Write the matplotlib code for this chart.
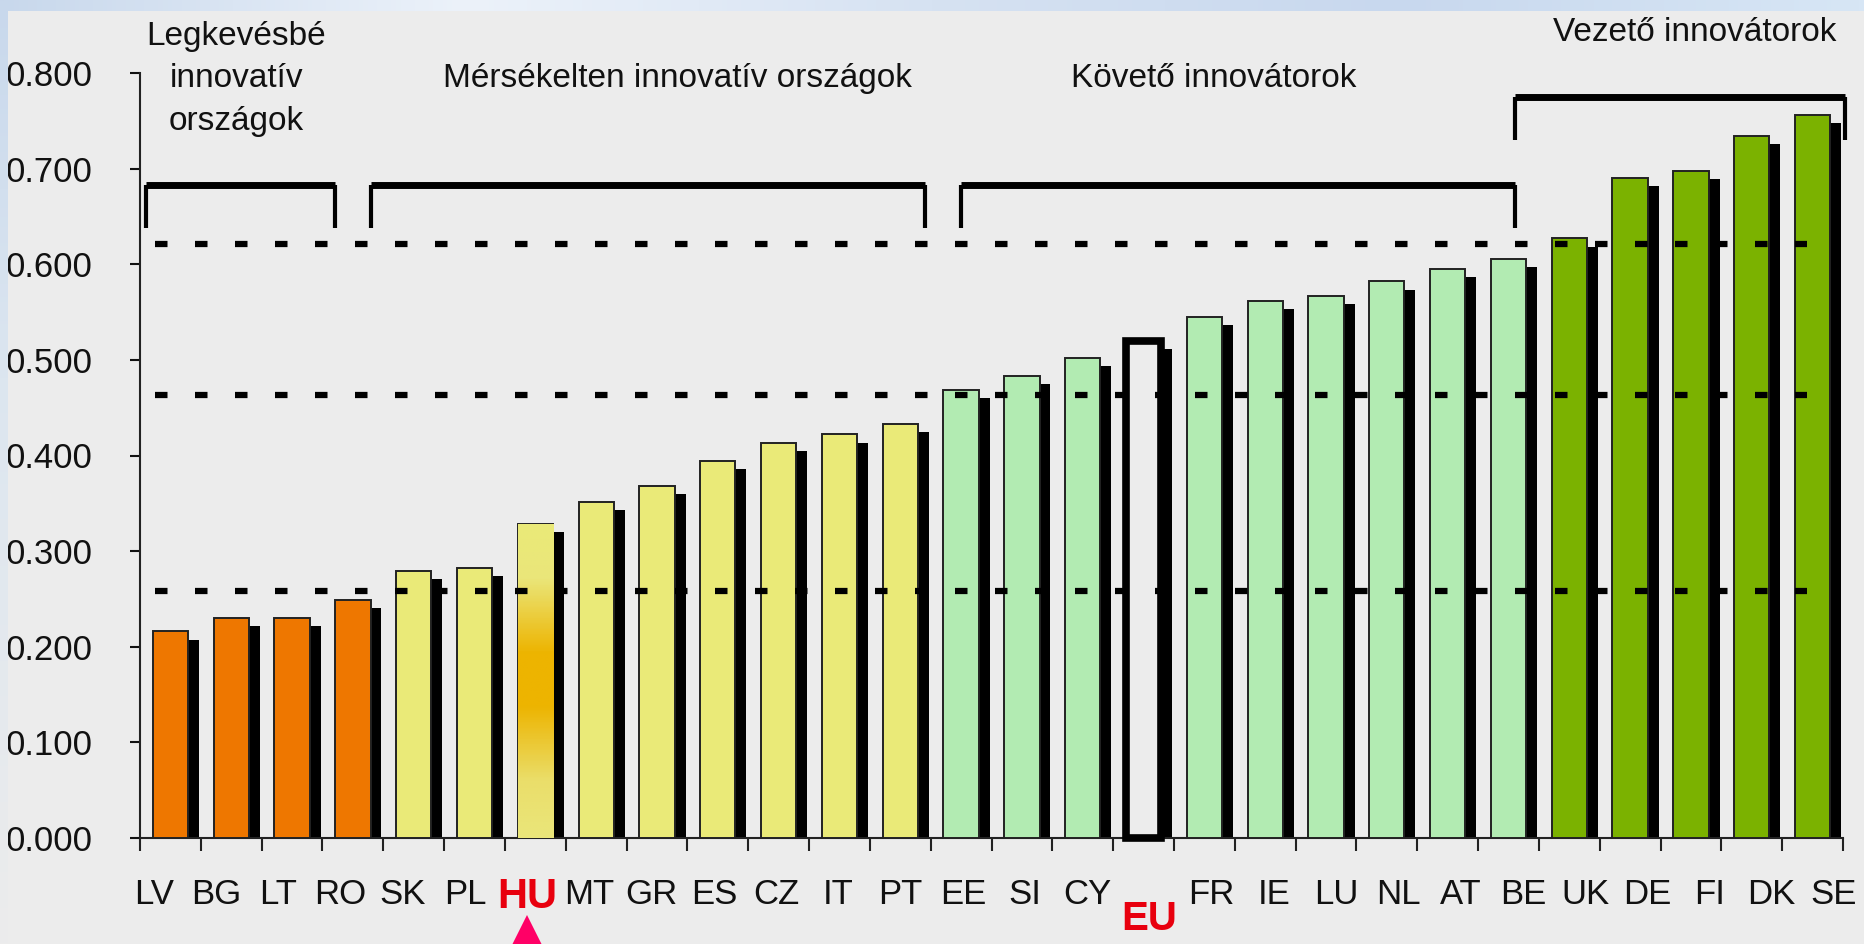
import numpy as np
import matplotlib
matplotlib.use('Agg')
import matplotlib.pyplot as plt
from matplotlib.colors import LinearSegmentedColormap

## data
countries = ['LV', 'BG', 'LT', 'RO', 'SK', 'PL', 'HU', 'MT', 'GR', 'ES', 'CZ', 'IT', 'PT',
             'EE', 'SI', 'CY', 'EU', 'FR', 'IE', 'LU', 'NL', 'AT', 'BE',
             'UK', 'DE', 'FI', 'DK', 'SE']
scores = [0.216, 0.230, 0.230, 0.249, 0.279, 0.282, 0.328, 0.351, 0.368, 0.394, 0.413, 0.422, 0.433,
          0.469, 0.483, 0.502, 0.520, 0.545, 0.562, 0.567, 0.582, 0.595, 0.606,
          0.627, 0.690, 0.698, 0.734, 0.756]
groups = ['low'] * 4 + ['moderate'] * 9 + ['follower'] * 3 + ['eu'] + ['follower'] * 6 + ['leader'] * 5
thresholds = [0.258, 0.463, 0.621]

group_titles = ['Legkevésbé\ninnovatív\nországok', 'Mérsékelten innovatív országok',
                'Követő innovátorok', 'Vezető innovátorok']
bracket_left = [-0.40, 3.30, 13.0, 22.1]
bracket_right = [2.71, 12.41, 22.1, 27.54]
bracket_top = [0.683, 0.683, 0.683, 0.775]
bracket_foot = [0.638, 0.638, 0.638, 0.730]

colors = {'low': '#EE7700', 'moderate': '#EAEA78', 'follower': '#B2EBB2',
          'leader': '#7BB200', 'eu': '#ECECEC'}
bg = '#ECECEC'

plt.rcParams['font.family'] = ['Liberation Sans Narrow', 'Liberation Sans', 'DejaVu Sans']

fig = plt.figure(figsize=(18.64, 9.44), dpi=100, facecolor=bg)
ax = fig.add_axes([140 / 1864, 106 / 944, 1703 / 1864, 765 / 944], facecolor=bg)

x = np.arange(len(countries))
width = 0.58
shift = 0.18

## shadows first, then the bars
ax.bar(x + shift, np.array(scores) - 0.0085, width=width, color='black', zorder=2)
bars = ax.bar(x, scores, width=width, color=[colors[g] for g in groups],
              edgecolor='#222222', linewidth=1.4, zorder=3)

eu = countries.index('EU')
bars[eu].set_linewidth(5.5)
bars[eu].set_edgecolor('black')
bars[eu].set_clip_on(False)

## Hungary gets a gradient fill
hu = countries.index('HU')
hu_cmap = LinearSegmentedColormap.from_list('hu', [(0, '#EAE67A'), (0.18, '#EADE6A'),
                                                  (0.42, '#EDB400'), (0.59, '#EDB400'),
                                                  (0.83, '#EAE67A'), (1, '#EAEA78')])
grad = np.linspace(0, 1, 200).reshape(-1, 1)
im = ax.imshow(grad, cmap=hu_cmap, origin='lower', aspect='auto', zorder=3.5,
               extent=(hu - width / 2, hu + width / 2, 0, scores[hu]))
im.set_clip_path(bars[hu])

## threshold lines
for t in thresholds:
    ax.plot([-0.25, 26.9], [t, t], color='black', linewidth=4.5,
            dashes=(2.0, 4.4), solid_capstyle='butt', dash_capstyle='butt', zorder=5)

## group brackets and titles
for l, r, top, foot in zip(bracket_left, bracket_right, bracket_top, bracket_foot):
    ax.plot([l, r], [top, top], color='black', linewidth=5, solid_capstyle='butt',
            zorder=6, clip_on=False)
    ax.plot([l, l], [top, foot], color='black', linewidth=3, solid_capstyle='butt',
            zorder=6, clip_on=False)
    ax.plot([r, r], [top, foot], color='black', linewidth=3, solid_capstyle='butt',
            zorder=6, clip_on=False)

title_x = [1.08, 8.33, 17.16, 25.06]
title_y = [0.794, 0.794, 0.794, 0.842]
for txt, tx, ty in zip(group_titles, title_x, title_y):
    ax.text(tx, ty, txt, ha='center', va='center', fontsize=24, linespacing=1.47,
            color='#111111', clip_on=False)

## axes
ax.set_xlim(-0.5, len(countries) - 0.5)
ax.set_ylim(0, 0.8)
ax.set_yticks(np.arange(0, 0.81, 0.1))
ax.set_yticklabels(['%.3f' % v for v in np.arange(0, 0.81, 0.1)])
ax.set_xticks(np.arange(-0.5, len(countries), 1.0))
ax.set_xticklabels([])
ax.tick_params(axis='y', direction='out', length=7, width=1.5, pad=27, labelsize=25,
               colors='#111111')
ax.tick_params(axis='x', direction='out', length=9, width=1.5, colors='#222222')
for s in ['top', 'right']:
    ax.spines[s].set_visible(False)
for s in ['left', 'bottom']:
    ax.spines[s].set_linewidth(1.5)
    ax.spines[s].set_color('#222222')

## country labels sit on their own row, slightly wider spaced than the bars
label_x = x * 1.023 - 0.27
for i, c in enumerate(countries):
    if c == 'HU':
        ax.text(label_x[i], -0.062, c, ha='center', va='center', fontsize=30,
                fontweight='bold', color='#E8000E', clip_on=False)
    elif c == 'EU':
        ax.text(label_x[i], -0.085, c, ha='center', va='center', fontsize=29,
                fontweight='bold', color='#E8000E', clip_on=False)
    else:
        ax.text(label_x[i], -0.059, c, ha='center', va='center', fontsize=25,
                color='#111111', clip_on=False)

## pink pointer under HU
ax.plot([label_x[hu]], [-0.099], marker='^', markersize=26, color='#FF0066',
        markeredgewidth=0, clip_on=False, zorder=7)

## slide background strips at top and left
top = fig.add_axes([0, 1 - 11 / 944, 1, 11 / 944])
stops = [0, 0.25, 0.5, 0.75, 1]
rgb = np.array([[200, 216, 236], [236, 242, 250], [214, 226, 242],
                [200, 216, 238], [215, 230, 245]]) / 255
pos = np.linspace(0, 1, 400)
strip = np.stack([np.interp(pos, stops, rgb[:, k]) for k in range(3)], axis=-1)
top.imshow(strip[np.newaxis, :, :], aspect='auto', extent=(0, 1, 0, 1))
top.axis('off')

left = fig.add_axes([0, 0, 8 / 1864, 1])
col = np.stack([np.interp(pos, [0, 0.6, 1], [236 / 255, 220 / 255, 200 / 255]),
                np.interp(pos, [0, 0.6, 1], [236 / 255, 230 / 255, 216 / 255]),
                np.interp(pos, [0, 0.6, 1], [236 / 255, 240 / 255, 236 / 255])], axis=-1)
left.imshow(col[:, np.newaxis, :], aspect='auto', origin='lower', extent=(0, 1, 0, 1))
left.axis('off')

fig.savefig('out.png', dpi=100, facecolor=bg)
